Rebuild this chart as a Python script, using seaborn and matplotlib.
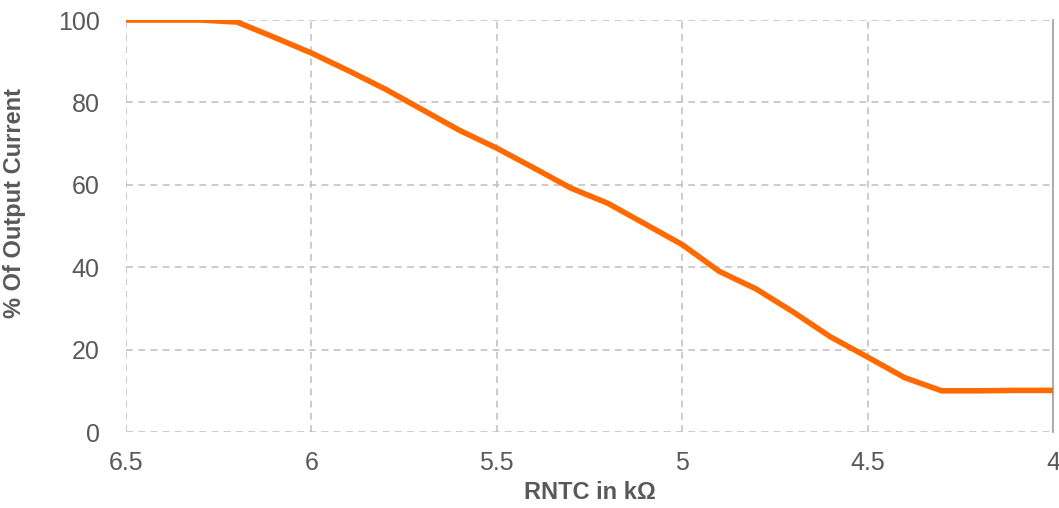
import matplotlib
matplotlib.use("Agg")
import matplotlib.pyplot as plt
import pandas as pd
import seaborn as sns

# values
rntc_kohm = [6.5, 6.4, 6.3, 6.2, 6.1, 6.0, 5.9, 5.8, 5.7, 5.6, 5.5, 5.4, 5.3,
             5.2, 5.1, 5.0, 4.9, 4.8, 4.7, 4.6, 4.5, 4.4, 4.3, 4.2, 4.1, 4.0]
output_pct = [100, 100, 100, 99.5, 95.8, 92.0, 87.7, 83.2, 78.2, 73.2, 68.9,
              64.1, 59.2, 55.5, 50.5, 45.5, 39.0, 34.7, 29.1, 23.1, 18.2, 13.2,
              10.0, 10.0, 10.1, 10.1]
x_ticks = [6.5, 6, 5.5, 5, 4.5, 4]
x_tick_labels = ["6.5", "6", "5.5", "5", "4.5", "4"]
y_ticks = [0, 20, 40, 60, 80, 100]

df = pd.DataFrame({"RNTC": rntc_kohm, "Pct": output_pct})

sns.set_theme(style="white")
plt.rcParams['font.family'] = ['Liberation Sans', 'DejaVu Sans']

fig = plt.figure(figsize=(10.59, 5.08), dpi=100)
ax = fig.add_axes([0.119, 0.1496, 0.8753, 0.811])

sns.lineplot(data=df, x="RNTC", y="Pct", ax=ax, color="#FF6A00",
             linewidth=4, solid_joinstyle="round", solid_capstyle="butt",
             zorder=3)

ax.set_xlim(6.5, 4)
ax.set_ylim(0, 100)
ax.set_xticks(x_ticks)
ax.set_xticklabels(x_tick_labels)
ax.set_yticks(y_ticks)

grid_color = "#BFBFBF"
for xv in x_ticks:
    ax.axvline(xv, color=grid_color, lw=1.1, ls=(0, (4.5, 3.5)), zorder=1)
for yv in y_ticks:
    ax.axhline(yv, color=grid_color, lw=1.1, ls=(0, (4.5, 3.5)), zorder=1)

for side in ["top", "left", "bottom"]:
    ax.spines[side].set_visible(False)
ax.spines["right"].set_color("#A6A6A6")
ax.spines["right"].set_linewidth(1.3)

ax.tick_params(axis="both", length=0, labelsize=18, labelcolor="#595959")
ax.tick_params(axis="x", pad=14)
ax.tick_params(axis="y", pad=19)

ax.set_xlabel("RNTC in kΩ", fontsize=17, fontweight="bold", color="#595959",
              labelpad=4)
ax.set_ylabel("% Of Output Current", fontsize=17, fontweight="bold",
              color="#595959")
ax.yaxis.set_label_coords(-0.108, 0.556)

fig.savefig("out.png", dpi=100)
